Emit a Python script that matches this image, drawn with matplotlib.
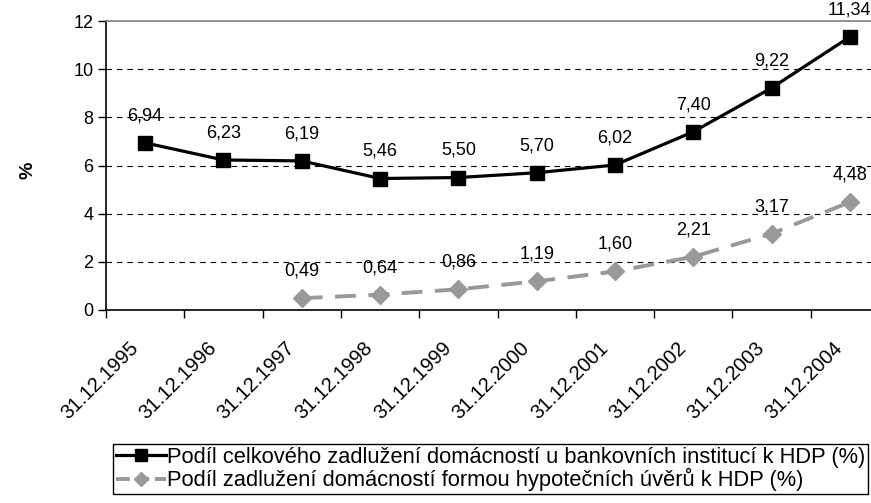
import matplotlib
matplotlib.use("Agg")
import matplotlib.pyplot as plt
from matplotlib.lines import Line2D
from matplotlib.transforms import ScaledTranslation
import numpy as np

plt.rcParams['font.family'] = ['Liberation Sans', 'DejaVu Sans']
plt.rcParams['lines.scale_dashes'] = False

categories = ["31.12.1995", "31.12.1996", "31.12.1997", "31.12.1998", "31.12.1999",
              "31.12.2000", "31.12.2001", "31.12.2002", "31.12.2003", "31.12.2004"]
total_debt = [6.94, 6.23, 6.19, 5.46, 5.50, 5.70, 6.02, 7.40, 9.22, 11.34]
mortgage = [None, None, 0.49, 0.64, 0.86, 1.19, 1.60, 2.21, 3.17, 4.48]
series_names = ["Podíl celkového zadlužení domácností u bankovních institucí k HDP (%)",
                "Podíl zadlužení domácností formou hypotečních úvěrů k HDP (%)"]
yticks = [0, 2, 4, 6, 8, 10, 12]

def fmt(v):
    return f"{v:.2f}".replace(".", ",")

W, H = 871, 503
fig = plt.figure(figsize=(W / 100, H / 100), dpi=100)
ax = fig.add_axes([106 / W, 1 - 310 / H, (889 - 106) / W, (310 - 21) / H])

x = np.arange(len(categories))
ax.set_xlim(-0.5, len(categories) - 0.5)
ax.set_ylim(0, 12)

for v in yticks[1:-1]:
    ax.axhline(v, color='black', lw=0.8, dashes=(4, 3.5), zorder=1)

GRAY = '#999999'
ax.plot(x, total_debt, color='black', lw=2.3, marker='s', markersize=10, zorder=3)
mx = [i for i, v in enumerate(mortgage) if v is not None]
my = [v for v in mortgage if v is not None]
ax.plot(mx, my, color=GRAY, lw=2.8, dashes=(15, 9), marker='D', markersize=9.5, zorder=3)

for i, v in enumerate(total_debt):
    ax.annotate(fmt(v), (i, v), xytext=(0, 19.5), textcoords='offset points',
                ha='center', va='center', fontsize=13, zorder=4)
for i, v in zip(mx, my):
    ax.annotate(fmt(v), (i, v), xytext=(0, 19.5), textcoords='offset points',
                ha='center', va='center', fontsize=13, zorder=4)

ax.set_yticks(yticks)
ax.set_yticklabels([str(t) for t in yticks], fontsize=13)
ax.set_xticks(np.arange(len(categories) + 1) - 0.5, minor=True)
ax.tick_params(axis='x', which='minor', length=6, width=1, color='black', direction='out')
ax.tick_params(axis='y', length=6, width=1, color='black', direction='out', pad=3)
ax.tick_params(axis='x', which='major', length=0, pad=0)
ax.set_xticks(x)
ax.set_xticklabels(categories, rotation=45, ha='right', va='center',
                   rotation_mode='anchor', fontsize=14.5)

ax.spines['left'].set_color('black')
ax.spines['left'].set_linewidth(1.2)
ax.spines['bottom'].set_color('black')
ax.spines['bottom'].set_linewidth(1.2)
ax.spines['top'].set_color('#808080')
ax.spines['top'].set_linewidth(1.2)
ax.spines['right'].set_visible(False)

ax.set_ylabel('%', fontsize=14, fontweight='bold', va='center')
ax.yaxis.set_label_coords((28 - 106) / 783, (310 - 170) / 289)

handles = [Line2D([], [], color='black', lw=2.3, marker='s', markersize=8),
           Line2D([], [], color=GRAY, lw=2.8, dashes=(10, 4), marker='D', markersize=7.5)]
leg = fig.legend(handles, series_names, loc='upper left',
                 bbox_to_anchor=(113 / W, 1 - 444 / H), fontsize=15.75,
                 frameon=True, fancybox=False, edgecolor='black', framealpha=1,
                 handlelength=2.3, handletextpad=0.05, borderpad=0.12, labelspacing=0.03,
                 borderaxespad=0)
leg.get_frame().set_linewidth(1.0)

offset = ScaledTranslation(-0.10, -0.35, fig.dpi_scale_trans)
for lab in ax.get_xticklabels():
    lab.set_transform(lab.get_transform() + offset)

fig.savefig('out.png', dpi=100)
